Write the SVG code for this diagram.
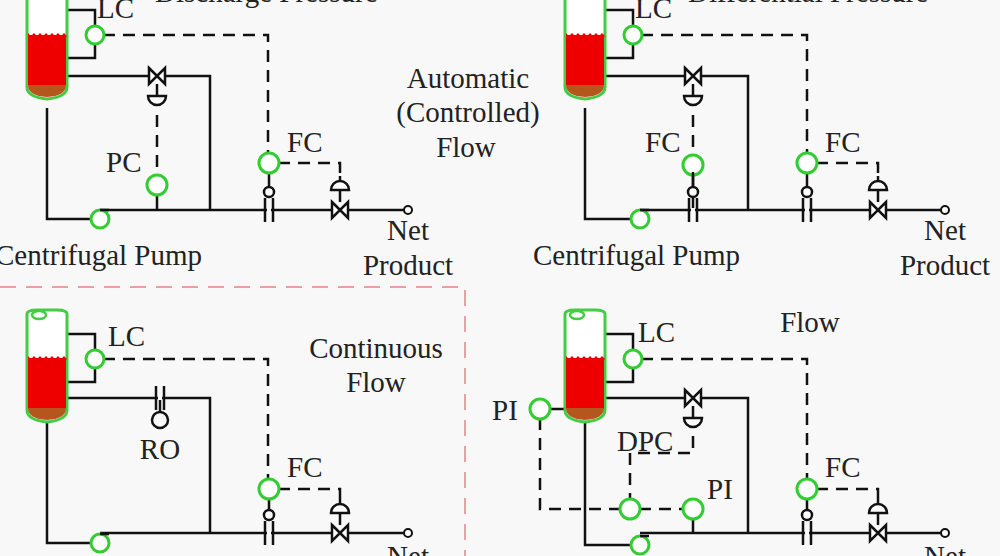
<svg xmlns="http://www.w3.org/2000/svg" width="1000" height="556" viewBox="0 0 1000 556">
<style>
.p{fill:none;stroke:#111;stroke-width:2.5}
.d{fill:none;stroke:#111;stroke-width:2.5;stroke-dasharray:12,8}
.i{fill:#fff;stroke:#3c3;stroke-width:3}
.t{font-family:"Liberation Serif",serif;font-size:29px;fill:#222}
.m{text-anchor:middle}
</style>
<defs>
<g id="vessel">
<path d="M-20,4 L-20,100 Q-20,110 0,112 Q20,110 20,100 L20,4 Q20,0 10,0 L-10,0 Q-20,0 -20,4 Z" fill="#fff" stroke="#4c4" stroke-width="3"/>
<path d="M-19,48 L19,48 L19,98 L-19,98 Z" fill="#e00"/>
<path d="M-19,46 l3,3 l3,-3 l3,3 l3,-3 l3,3 l3,-3 l3,3 l3,-3 l3,3 l3,-3 l3,3 l3,-3 l3,3 L19,50 L-19,50 Z" fill="#e00"/>
<path d="M-19,98 L19,98 Q19,109 0,110 Q-19,109 -19,98 Z" fill="#b5561c"/>
<ellipse cx="-8" cy="5" rx="7" ry="4" fill="none" stroke="#4c4" stroke-width="2.5"/>
</g>
<g id="valve"><path d="M-8,-8 L8,8 L8,-8 L-8,8 Z" fill="#fff" stroke="#111" stroke-width="2.5"/></g>
<g id="hvalve"><use href="#valve"/><path d="M0,8 L0,20 M-9,20 L9,20 A9,9 0 0 1 -9,20 Z" fill="#fff" stroke="#111" stroke-width="2.5"/></g>
<g id="cvalve"><use href="#valve"/><path d="M0,-8 L0,-20 M-9,-20 A9,9 0 0 1 9,-20 Z M0,-29 L0,-34" fill="#fff" stroke="#111" stroke-width="2.5"/></g>
<g id="orifice"><path d="M-4,-12 L-4,12 M4,-12 L4,12" stroke="#111" stroke-width="2.5"/><path d="M-2,0 L2,0" stroke="#f7f8f7" stroke-width="4"/></g>
<g id="fe"><use href="#orifice"/><path d="M0,-12 L0,-38" class="p"/><circle cx="0" cy="-18" r="5" fill="#fff" stroke="#111" stroke-width="2.5"/></g>
<g id="pump"><circle r="9" class="i"/><path d="M0,-9 L9,-9" class="p"/></g>
</defs>
<rect width="1000" height="556" fill="#f7f8f7"/>
<path d="M0,287 L465,287 L465,556" fill="none" stroke="#e8a0a0" stroke-width="2" stroke-dasharray="16,10"/>

<g id="connectors">
<path class="p" d="M67,10 L95,10 L95,27 M95,43 L95,58 L67,58 M67,76 L210,76 L210,210 M47,108 L47,219 L91,219 M100,210 L404,210 M157,210 L157,194"/>
<path class="d" d="M103,35 L268,35 L268,154 M157,115 L157,176 M278,163 L340,163 L340,176"/>
<path class="p" d="M605,10 L633,10 L633,27 M633,43 L633,58 L605,58 M605,76 L748,76 L748,210 M585,108 L585,219 L631,219 M640,210 L941,210 M693,210 L693,174"/>
<path class="d" d="M641,35 L807,35 L807,154 M693,115 L693,156 M816,163 L878,163 L878,176"/>
<path class="p" d="M67,334 L95,334 L95,351 M95,367 L95,382 L67,382 M67,398 L210,398 L210,533 M47,420 L47,543 L91,543 M100,533 L404,533 M160,398 L160,412"/>
<path class="d" d="M103,359 L268,359 L268,480 M278,489 L340,489 L340,499"/>
<path class="p" d="M605,334 L633,334 L633,351 M633,367 L633,382 L605,382 M605,398 L748,398 L748,533 M585,420 L585,545 L631,545 M640,533 L941,533 M549,409 L565,409 M693,518 L693,533"/>
<path class="d" d="M641,359 L807,359 L807,480 M816,489 L878,489 L878,499 M693,436 L693,453 L630,453 L630,500 M540,418 L540,509 L621,509 M639,509 L684,509"/>
</g>

<g id="tl">
<use href="#vessel" x="47" y="-13"/>
<g id="tl-lc"><circle cx="95" cy="35" r="9" class="i"/><text class="t" x="97" y="18">LC</text></g>
<use href="#hvalve" x="157" y="76"/>
<g id="tl-pc"><circle cx="157" cy="185" r="10" class="i"/><text class="t" x="106" y="172">PC</text></g>
<use href="#pump" x="100" y="219"/>
<use href="#fe" x="269" y="210"/>
<g id="tl-fc"><circle cx="269" cy="163" r="10" class="i"/><text class="t" x="287" y="152">FC</text></g>
<use href="#cvalve" x="340" y="210"/>
<circle cx="408" cy="210" r="4" fill="#fff" stroke="#111" stroke-width="2"/>
<text class="t m" x="408" y="240">Net</text><text class="t m" x="408" y="275">Product</text>
<text class="t" x="-5" y="265">Centrifugal Pump</text>
<text class="t m" x="468" y="88">Automatic</text><text class="t m" x="468" y="122">(Controlled)</text><text class="t m" x="466" y="157">Flow</text>
<text class="t" x="155" y="2">Discharge Pressure</text>
</g>

<g id="tr">
<use href="#vessel" x="585" y="-13"/>
<g id="tr-lc"><circle cx="633" cy="35" r="9" class="i"/><text class="t" x="635" y="18">LC</text></g>
<use href="#hvalve" x="693" y="76"/>
<g id="tr-fc1"><circle cx="693" cy="165" r="10" class="i"/><text class="t" x="645" y="152">FC</text></g>
<use href="#fe" x="693" y="210"/>
<use href="#pump" x="640" y="219"/>
<use href="#fe" x="807" y="210"/>
<g id="tr-fc2"><circle cx="807" cy="163" r="10" class="i"/><text class="t" x="825" y="152">FC</text></g>
<use href="#cvalve" x="878" y="210"/>
<circle cx="945" cy="210" r="4" fill="#fff" stroke="#111" stroke-width="2"/>
<text class="t m" x="945" y="240">Net</text><text class="t m" x="945" y="275">Product</text>
<text class="t" x="533" y="265">Centrifugal Pump</text>
<text class="t" x="688" y="2">Differential Pressure</text>
</g>

<g id="bl">
<use href="#vessel" x="47" y="310"/>
<g id="bl-lc"><circle cx="95" cy="359" r="9" class="i"/><text class="t" x="108" y="346">LC</text></g>
<g id="bl-ro"><use href="#orifice" x="160" y="398"/><circle cx="160" cy="420" r="8" fill="none" stroke="#111" stroke-width="2.5"/><text class="t m" x="160" y="459">RO</text></g>
<use href="#pump" x="100" y="543"/>
<use href="#fe" x="269" y="533"/>
<g id="bl-fc"><circle cx="269" cy="489" r="10" class="i"/><text class="t" x="287" y="477">FC</text></g>
<use href="#cvalve" x="340" y="533"/>
<circle cx="408" cy="533" r="4" fill="#fff" stroke="#111" stroke-width="2"/>
<text class="t m" x="408" y="566">Net</text>
<text class="t m" x="376" y="358">Continuous</text><text class="t m" x="376" y="392">Flow</text>
</g>

<g id="br">
<use href="#vessel" x="585" y="310"/>
<g id="br-lc"><circle cx="633" cy="359" r="9" class="i"/><text class="t" x="638" y="342">LC</text></g>
<use href="#hvalve" x="693" y="398"/>
<g id="br-dpc"><circle cx="630" cy="509" r="10" class="i"/><text class="t" x="617" y="451">DPC</text></g>
<g id="br-pi1"><circle cx="540" cy="409" r="10" class="i"/><text class="t" x="492" y="420">PI</text></g>
<g id="br-pi2"><circle cx="693" cy="509" r="10" class="i"/><text class="t" x="707" y="499">PI</text></g>
<use href="#pump" x="640" y="545"/>
<use href="#fe" x="807" y="533"/>
<g id="br-fc"><circle cx="807" cy="489" r="10" class="i"/><text class="t" x="825" y="477">FC</text></g>
<use href="#cvalve" x="878" y="533"/>
<circle cx="945" cy="533" r="4" fill="#fff" stroke="#111" stroke-width="2"/>
<text class="t m" x="945" y="566">Net</text>
<text class="t m" x="810" y="332">Flow</text>
</g>
</svg>
